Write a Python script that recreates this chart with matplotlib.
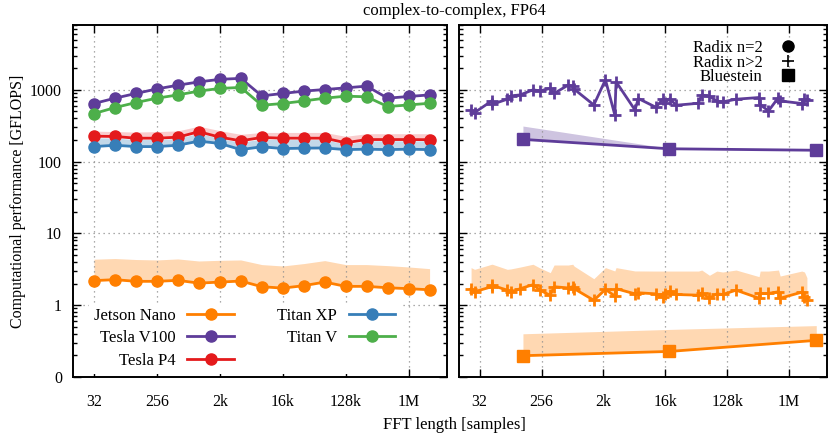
import numpy as np
import matplotlib
matplotlib.use('Agg')
import matplotlib.pyplot as plt
from matplotlib.lines import Line2D
from matplotlib.ticker import FixedLocator, NullLocator, LogLocator, NullFormatter

plt.rcParams['font.family'] = ['Liberation Serif', 'DejaVu Serif']
plt.rcParams['font.size'] = 12

# radix-2 lengths (left panel)
r2_len = [32, 64, 128, 256, 512, 1024, 2048, 4096, 8192, 16384, 32768,
          65536, 131072, 262144, 524288, 1048576, 2097152]

r2_jetson = [2.20, 2.27, 2.15, 2.15, 2.22, 2.03, 2.10, 2.17, 1.81, 1.73, 1.87,
             2.10, 1.83, 1.83, 1.75, 1.70, 1.64]
r2_jetson_hi = [4.37, 4.47, 4.33, 4.27, 4.41, 4.13, 4.22, 4.27, 3.68, 3.52, 3.80,
                4.18, 3.68, 3.68, 3.56, 3.41, 3.23]
r2_v100 = [645, 765, 890, 1030, 1160, 1290, 1400, 1445, 824, 890, 960,
           1010, 1065, 1127, 765, 808, 850]
r2_p4 = [226, 224, 212, 212, 219, 261, 219, 195, 217, 212, 212,
         212, 183, 203, 203, 203, 202]
r2_p4_hi = [266, 262, 258, 262, 268, 312, 270, 240, 255, 255, 255,
            255, 225, 245, 245, 245, 245]
r2_xp = [162, 169, 162, 162, 169, 193, 179, 147, 161, 152, 154,
         155, 147, 149, 147, 149, 147]
r2_xp_hi = [215, 213, 203, 203, 210, 250, 210, 186, 207, 203, 203,
            203, 175, 195, 195, 195, 194]
r2_titanv = [467, 566, 665, 765, 850, 960, 1046, 1080, 610, 645, 700,
             765, 816, 800, 585, 616, 650]

# radix n>2 lengths (right panel)
rn_len = [24, 27, 48, 49, 81, 91, 125, 192, 243, 343, 390, 625, 729, 765,
          1480, 2187, 3000, 3125, 5900, 6600, 11900, 15000, 16200, 19100,
          23300, 49700, 55600, 72000, 92000, 112000, 176000, 381000, 395000,
          522000, 731000, 774000, 1600000, 1750000, 1900000]
rn_v100 = [519, 482, 701, 630, 740, 824, 850, 1000, 968, 1046, 890, 1164,
           1116, 1023, 616, 1380, 446, 1295, 524, 757, 572, 740, 666, 757,
           610, 650, 850, 808, 701, 679, 740, 782, 623, 508, 782, 701, 645,
           740, 717]
rn_jetson = [1.70, 1.54, 1.81, 1.89, 1.62, 1.52, 1.70, 1.93, 1.62, 1.37,
             1.81, 1.74, 1.81, 1.70, 1.17, 1.66, 1.34, 1.70, 1.44, 1.49,
             1.44, 1.29, 1.41, 1.57, 1.41, 1.38, 1.49, 1.25, 1.44, 1.41,
             1.62, 1.25, 1.46, 1.46, 1.54, 1.25, 1.52, 1.31, 1.17]
rn_jetson_hi = [3.34, 3.16, 3.72, 3.72, 3.16, 3.20, 3.40, 3.72, 3.30, 2.84,
                3.63, 3.63, 3.72, 3.50, 2.34, 3.34, 3.00, 3.34, 3.00, 3.00,
                2.99, 2.99, 2.99, 2.99, 2.99, 2.99, 3.09, 2.61, 2.99, 2.90,
                3.09, 2.50, 2.99, 2.99, 3.09, 2.55, 2.99, 2.90, 2.42]

# Bluestein
bs_len = [137, 18700, 2600000]
bs_v100 = [204, 151, 144]
bs_v100_hi = [313, 153, 145]
bs_jetson = [0.198, 0.227, 0.324]
bs_jetson_hi = [0.40, 0.46, 0.52]

c_orange = '#ff7f00'
c_purple = '#5e3c99'
c_red = '#e41a1c'
c_blue = '#377eb8'
c_green = '#4daf4a'

xticks = [32, 256, 2048, 16384, 131072, 1048576]
xlabels = ['32', '256', '2k', '16k', '128k', '1M']
yticks = [0.1, 1, 10, 100, 1000]
ylabels = ['0', '1', '10', '100', '1000']

fig = plt.figure(figsize=(8.3, 4.4), dpi=100)
ax1 = fig.add_axes([73 / 830, 63 / 440, 374 / 830, 352 / 440])
ax2 = fig.add_axes([459 / 830, 63 / 440, 368 / 830, 352 / 440])

for ax in (ax1, ax2):
    ax.set_xscale('log', base=2)
    ax.set_yscale('log')
    ax.set_xlim(16, 2 ** 21.83)
    ax.set_ylim(0.1, 8000)
    ax.xaxis.set_major_locator(FixedLocator(xticks))
    ax.set_xticklabels(xlabels)
    ax.xaxis.set_minor_locator(NullLocator())
    ax.yaxis.set_major_locator(FixedLocator(yticks))
    ax.yaxis.set_minor_locator(LogLocator(base=10, subs=np.arange(2, 10)))
    ax.yaxis.set_minor_formatter(NullFormatter())
    ax.tick_params(which='both', direction='in', top=True, right=True, width=1,
                   labelsize=11.5)
    ax.tick_params(which='major', length=6)
    ax.tick_params(axis='x', which='major', pad=12)
    ax.tick_params(axis='y', which='major', pad=8)
    ax.tick_params(which='minor', length=3)
    ax.grid(True, which='major', linestyle=(0, (1, 3)), color='#909090', linewidth=0.9)
    for s in ax.spines.values():
        s.set_linewidth(1.4)

ax1.set_yticklabels(ylabels)
ax2.set_yticklabels([])

lw = 2.0
ms = 8

# left panel: radix 2
ax1.fill_between(r2_len, r2_jetson, r2_jetson_hi, color=c_orange, alpha=0.3, lw=0)
ax1.fill_between(r2_len, r2_xp, r2_xp_hi, color=c_blue, alpha=0.3, lw=0)
ax1.fill_between(r2_len, r2_p4, r2_p4_hi, color=c_red, alpha=0.22, lw=0)
ax1.plot(r2_len, r2_jetson, '-o', color=c_orange, lw=lw, ms=ms, label='Jetson Nano')
ax1.plot(r2_len, r2_v100, '-o', color=c_purple, lw=lw, ms=ms, label='Tesla V100')
ax1.plot(r2_len, r2_p4, '-o', color=c_red, lw=lw, ms=ms, label='Tesla P4')
ax1.plot(r2_len, r2_xp, '-o', color=c_blue, lw=lw, ms=ms, label='Titan XP')
ax1.plot(r2_len, r2_titanv, '-o', color=c_green, lw=lw, ms=ms, label='Titan V')
ax1.set_ylabel('Computational performance [GFLOPS]', fontsize=11.5, labelpad=3)

leg = ax1.legend(ncol=2, loc='lower left', bbox_to_anchor=(0.02, -0.015),
                 markerfirst=False, frameon=True, fancybox=False,
                 handlelength=2.8, columnspacing=2.6, labelspacing=0.4,
                 handletextpad=0.7, borderpad=0.3, fontsize=12)
leg.get_frame().set_edgecolor('none')
leg.get_frame().set_facecolor('white')
leg.get_frame().set_alpha(1)

# right panel: radix n>2 and Bluestein
ax2.fill_between(rn_len, rn_jetson, rn_jetson_hi, color=c_orange, alpha=0.3, lw=0)
ax2.fill_between(bs_len, bs_jetson, bs_jetson_hi, color=c_orange, alpha=0.3, lw=0)
ax2.fill_between(bs_len, bs_v100, bs_v100_hi, color=c_purple, alpha=0.3, lw=0)
ax2.plot(rn_len, rn_jetson, '-+', color=c_orange, lw=lw, ms=8, mew=2)
ax2.plot(rn_len, rn_v100, '-+', color=c_purple, lw=lw, ms=8, mew=2)
ax2.plot(bs_len, bs_jetson, '-s', color=c_orange, lw=lw, ms=8)
ax2.plot(bs_len, bs_v100, '-s', color=c_purple, lw=lw, ms=8)

proxies = [Line2D([], [], ls='none', marker='o', color='black', ms=8),
           Line2D([], [], ls='none', marker='+', color='black', ms=9, mew=1.2),
           Line2D([], [], ls='none', marker='s', color='black', ms=8)]
leg2 = ax2.legend(proxies, ['Radix n=2', 'Radix n>2', 'Bluestein'],
                  loc='upper right', bbox_to_anchor=(0.97, 1.0),
                  markerfirst=False, frameon=False, handlelength=1.5,
                  labelspacing=-0.08, fontsize=12)

fig.text(0.548, 0.975, 'complex-to-complex, FP64', ha='center', va='center', fontsize=12)
fig.text(0.548, 0.035, 'FFT length [samples]', ha='center', va='center', fontsize=12)

fig.savefig('out.png', dpi=100)
